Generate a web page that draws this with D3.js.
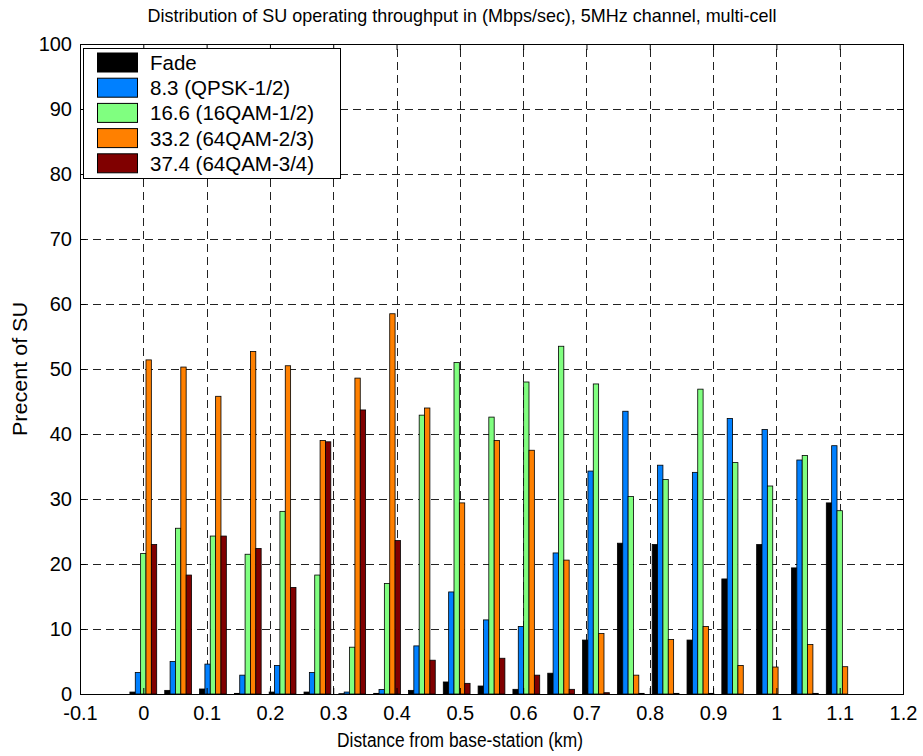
<!DOCTYPE html>
<html>
<head>
<meta charset="utf-8">
<script src="https://cdn.jsdelivr.net/npm/d3@7/dist/d3.min.js"></script>
<style>
  html, body { margin: 0; padding: 0; background: #fff; }
  svg { display: block; font-family: "Liberation Sans", Arial, Helvetica, sans-serif; }
</style>
</head>
<body>
<svg id="chart" width="923" height="756"></svg>
<script>
// ---- data ----
const distances = [0, 0.055, 0.11, 0.165, 0.22, 0.275, 0.33, 0.385, 0.44, 0.495, 0.55,
                   0.605, 0.66, 0.715, 0.77, 0.825, 0.88, 0.935, 0.99, 1.045, 1.1];
const fade   = [0.3, 0.56, 0.77, 0.1, 0.3, 0.3, 0.05, 0.1, 0.56, 1.85, 1.23,
                0.72, 3.2, 8.3, 23.2, 23.0, 8.3, 17.7, 23.0, 19.4, 29.4];
const qpsk   = [3.3, 5.0, 4.6, 2.9, 4.4, 3.3, 0.3, 0.7, 7.4, 15.7, 11.4,
                10.4, 21.7, 34.3, 43.5, 35.2, 34.1, 42.4, 40.7, 36.0, 38.2];
const qam16  = [21.6, 25.5, 24.3, 21.5, 28.1, 18.3, 7.2, 17.0, 42.9, 51.0, 42.6,
                48.0, 53.5, 47.7, 30.4, 33.0, 46.9, 35.6, 32.0, 36.7, 28.2];
const qam64a = [51.4, 50.3, 45.8, 52.7, 50.5, 39.0, 48.6, 58.5, 44.0, 29.4, 39.0,
                37.5, 20.6, 9.3, 2.9, 8.4, 10.4, 4.4, 4.15, 7.6, 4.2];
const qam64b = [23.0, 18.3, 24.3, 22.4, 16.4, 38.8, 43.7, 23.6, 5.2, 1.64, 5.5,
                2.9, 0.72, 0.2, 0.1, 0.1, 0.1, 0, 0, 0.1, 0];
const seriesNames = ["Fade", "8.3 (QPSK-1/2)", "16.6 (16QAM-1/2)", "33.2 (64QAM-2/3)", "37.4 (64QAM-3/4)"];
const seriesColors = ["#000000", "#0080ff", "#80ff80", "#ff8000", "#800000"];
const xTickValues = [-0.1, 0, 0.1, 0.2, 0.3, 0.4, 0.5, 0.6, 0.7, 0.8, 0.9, 1, 1.1, 1.2];
const xTickLabels = ["-0.1", "0", "0.1", "0.2", "0.3", "0.4", "0.5", "0.6", "0.7", "0.8", "0.9", "1", "1.1", "1.2"];
const yTickValues = [0, 10, 20, 30, 40, 50, 60, 70, 80, 90, 100];
const titleText = "Distribution of SU operating throughput in (Mbps/sec), 5MHz channel, multi-cell";
const xLabelText = "Distance from base-station (km)";
const yLabelText = "Precent of SU";

const series = [fade, qpsk, qam16, qam64a, qam64b];

// ---- layout ----
const svg = d3.select("#chart");
const L = 80, R = 903, T = 44, B = 694;
const x = d3.scaleLinear().domain([-0.1, 1.2]).range([L, R]);
const y = d3.scaleLinear().domain([0, 100]).range([B, T]);

svg.append("rect").attr("x", 0).attr("y", 0).attr("width", 923).attr("height", 756).attr("fill", "#fff");

// grid
const grid = svg.append("g").attr("stroke", "#222").attr("stroke-width", 1)
  .attr("stroke-dasharray", "8,5").attr("shape-rendering", "crispEdges");
grid.selectAll("line.v").data(xTickValues.slice(1, -1)).join("line")
  .attr("x1", d => Math.round(x(d)) + 0.5).attr("x2", d => Math.round(x(d)) + 0.5)
  .attr("y1", B).attr("y2", T);
grid.selectAll("line.h").data(yTickValues.slice(1, -1)).join("line")
  .attr("y1", d => Math.round(y(d)) + 0.5).attr("y2", d => Math.round(y(d)) + 0.5)
  .attr("x1", L).attr("x2", R);

// bars
const spacing = distances[1] - distances[0];
const groupWidth = spacing * 5 / 6.5;
const slot = groupWidth / series.length;
const barsG = svg.append("g");
series.forEach((vals, j) => {
  barsG.append("g").selectAll("rect").data(vals).join("rect")
    .attr("x", (d, i) => x(distances[i] + (j - 2.5) * slot))
    .attr("width", x(slot) - x(0))
    .attr("y", d => y(d))
    .attr("height", d => y(0) - y(d))
    .attr("fill", seriesColors[j])
    .attr("stroke", d => d > 0 ? "#000" : "none")
    .attr("stroke-width", 0.8);
});

// axes
const fontSize = 20;
const xAxis = d3.axisBottom(x).tickValues(xTickValues)
  .tickFormat((d, i) => xTickLabels[i]).tickSize(-6).tickPadding(12);
const gx = svg.append("g").attr("transform", `translate(0,${B})`).call(xAxis);
const yAxis = d3.axisLeft(y).tickValues(yTickValues).tickSize(-6).tickPadding(8);
const gy = svg.append("g").attr("transform", `translate(${L},0)`).call(yAxis);
const gxTop = svg.append("g").attr("transform", `translate(0,${T})`)
  .call(d3.axisTop(x).tickValues(xTickValues).tickSize(-6).tickFormat(""));
const gyRight = svg.append("g").attr("transform", `translate(${R},0)`)
  .call(d3.axisRight(y).tickValues(yTickValues).tickSize(-6).tickFormat(""));
[gx, gy, gxTop, gyRight].forEach(g => {
  g.select(".domain").remove();
  g.selectAll("text").attr("font-size", fontSize).attr("font-family", "Liberation Sans, Arial, sans-serif").attr("fill", "#000");
  g.selectAll("line").attr("stroke", "#000");
});

// frame
svg.append("rect").attr("x", L + 0.5).attr("y", T + 0.5).attr("width", R - L).attr("height", B - T)
  .attr("fill", "none").attr("stroke", "#000").attr("stroke-width", 1);

// title & labels (condensed, as in the reference)
svg.append("text").attr("x", 462).attr("y", 22).attr("text-anchor", "middle")
  .attr("font-size", 19).attr("textLength", 629).attr("lengthAdjust", "spacingAndGlyphs")
  .text(titleText);
svg.append("text").attr("x", 460).attr("y", 747).attr("text-anchor", "middle")
  .attr("font-size", 20).attr("textLength", 246).attr("lengthAdjust", "spacingAndGlyphs")
  .text(xLabelText);
svg.append("text").attr("transform", `translate(27,369) rotate(-90)`)
  .attr("text-anchor", "middle").attr("font-size", 20)
  .attr("textLength", 134).attr("lengthAdjust", "spacingAndGlyphs").text(yLabelText);

// legend
const lg = svg.append("g");
lg.append("rect").attr("x", 83.5).attr("y", 48.5).attr("width", 257).attr("height", 130)
  .attr("fill", "#fff").attr("stroke", "#000").attr("stroke-width", 1);
seriesNames.forEach((name, j) => {
  const cy = 62.5 + j * 25.2;
  lg.append("rect").attr("x", 97.5).attr("y", cy - 9.5).attr("width", 40).attr("height", 19)
    .attr("fill", seriesColors[j]).attr("stroke", "#000").attr("stroke-width", 1);
  lg.append("text").attr("x", 150).attr("y", cy + 7.5).attr("font-size", 20.5).text(name);
});
</script>
</body>
</html>
